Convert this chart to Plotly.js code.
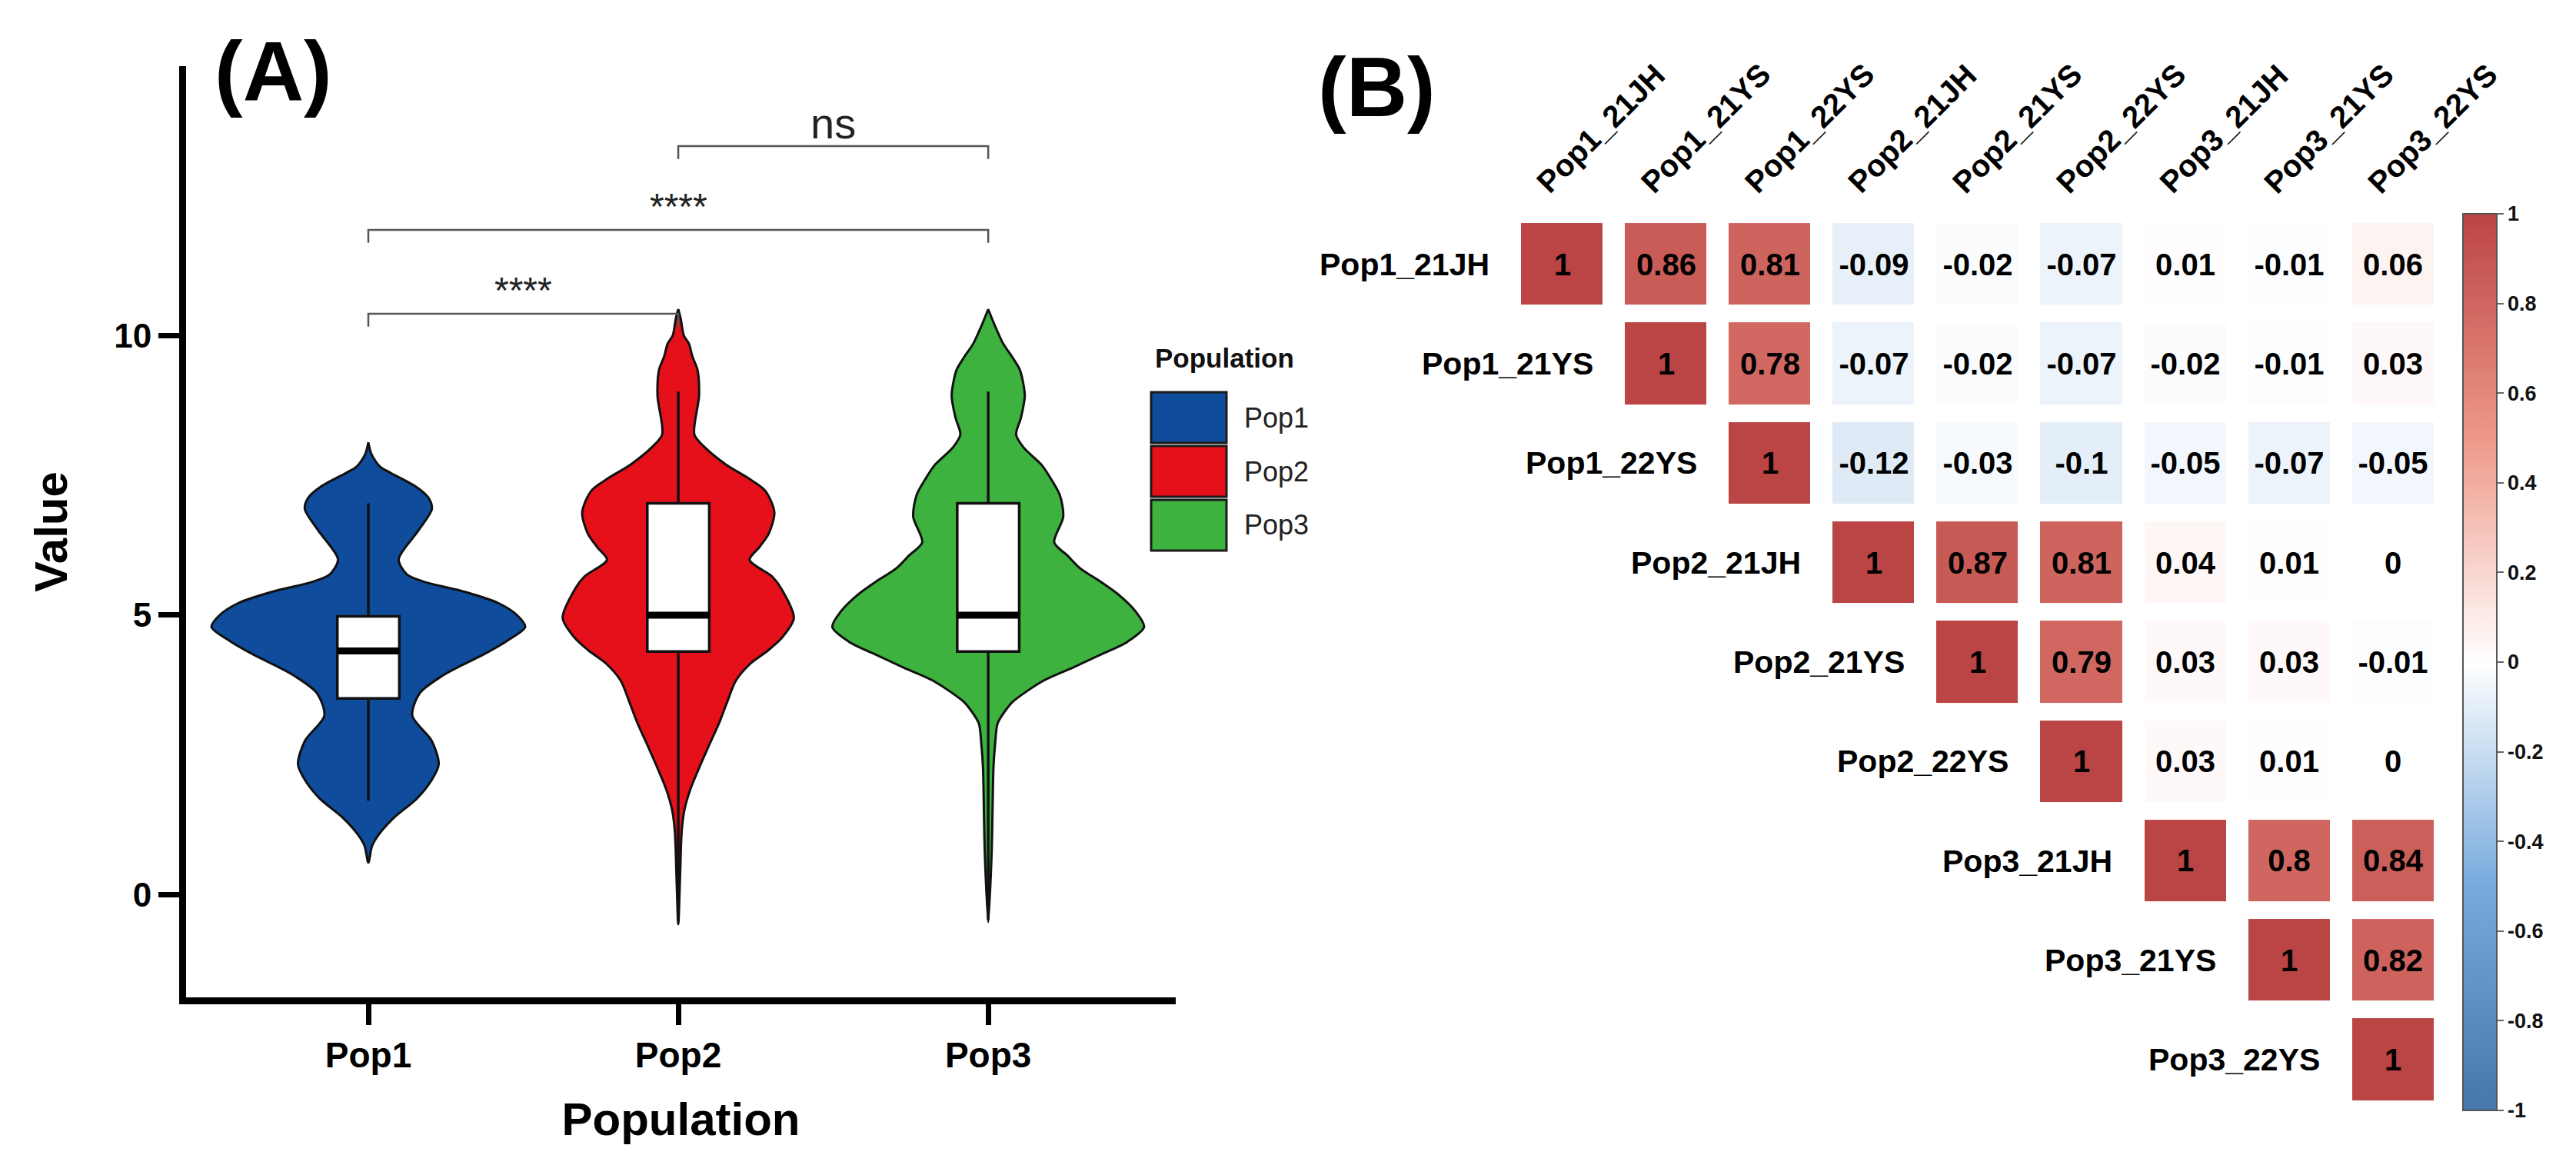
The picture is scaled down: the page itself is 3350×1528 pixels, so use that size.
<!DOCTYPE html>
<html><head><meta charset="utf-8">
<script src="https://cdn.plot.ly/plotly-3.0.1.min.js"></script>
<style>html,body{margin:0;padding:0;background:#fff}#chart{width:3350px;height:1528px}</style>
</head><body><div id="chart"></div>
<script>
const W = 3350, H = 1528;
const FONT = 'Liberation Sans, Arial, Helvetica, sans-serif';

// ---------- Panel A data ----------
const populations = ['Pop1', 'Pop2', 'Pop3'];
const popColors = ['#0f4c9b', '#e5101a', '#3db23e'];
const yTicks = [0, 5, 10];

// violin density profiles (value level, half width in category units)
const pop1Y = [0.575, 0.87, 1.07, 1.39, 1.71, 2.04, 2.33, 2.75, 3.2, 3.6, 3.92, 4.1, 4.31, 4.55, 4.79, 5.0, 5.22, 5.42, 5.6, 5.73, 6.0, 6.51, 6.9, 7.1, 7.3, 7.55, 7.66, 7.88, 8.09];
const pop1Width = [0, 0.012, 0.033, 0.085, 0.155, 0.203, 0.227, 0.205, 0.142, 0.165, 0.24, 0.3, 0.376, 0.45, 0.506, 0.48, 0.418, 0.31, 0.178, 0.124, 0.098, 0.161, 0.205, 0.194, 0.153, 0.07, 0.037, 0.01, 0];
const pop2Y = [-0.53, 0.36, 1.13, 1.52, 1.9, 2.29, 2.68, 3.06, 3.45, 3.83, 4.14, 4.37, 4.6, 4.95, 5.45, 5.69, 5.99, 6.22, 6.46, 6.84, 7.23, 7.46, 7.69, 8.0, 8.23, 8.92, 9.39, 9.62, 9.86, 10.0, 10.3, 10.47];
const pop2Width = [0, 0.006, 0.011, 0.02, 0.04, 0.069, 0.1, 0.131, 0.158, 0.186, 0.234, 0.29, 0.335, 0.373, 0.335, 0.303, 0.23, 0.262, 0.292, 0.31, 0.28, 0.223, 0.155, 0.086, 0.052, 0.067, 0.062, 0.046, 0.034, 0.018, 0.008, 0];
const pop3Y = [-0.49, 0.74, 1.52, 2.29, 2.68, 3.06, 3.25, 3.45, 3.83, 4.06, 4.3, 4.52, 4.79, 5.07, 5.37, 5.6, 5.84, 6.07, 6.3, 6.76, 7.15, 7.46, 7.69, 8.0, 8.23, 8.54, 8.92, 9.15, 9.39, 9.62, 9.86, 10.16, 10.47];
const pop3Width = [0, 0.011, 0.014, 0.017, 0.022, 0.03, 0.05, 0.079, 0.179, 0.272, 0.365, 0.448, 0.503, 0.475, 0.42, 0.362, 0.296, 0.255, 0.213, 0.242, 0.231, 0.2, 0.172, 0.114, 0.09, 0.106, 0.118, 0.113, 0.102, 0.077, 0.048, 0.023, 0];

// box statistics
const boxQ1 = [3.51, 4.35, 4.35];
const boxMedian = [4.36, 5.0, 5.0];
const boxQ3 = [4.98, 7.0, 7.0];
const boxLower = [1.68, -0.45, -0.45];
const boxUpper = [7.0, 9.0, 9.0];

// significance brackets
const sigFrom = [0, 0, 1];
const sigTo = [1, 2, 2];
const sigY = [10.39, 11.89, 13.39];
const sigLabel = ['****', '****', 'ns'];

// ---------- Panel B data ----------
const corrLabels = ['Pop1_21JH', 'Pop1_21YS', 'Pop1_22YS', 'Pop2_21JH', 'Pop2_21YS', 'Pop2_22YS', 'Pop3_21JH', 'Pop3_21YS', 'Pop3_22YS'];
const corrRow1 = [1, 0.86, 0.81, -0.09, -0.02, -0.07, 0.01, -0.01, 0.06];
const corrRow2 = [null, 1, 0.78, -0.07, -0.02, -0.07, -0.02, -0.01, 0.03];
const corrRow3 = [null, null, 1, -0.12, -0.03, -0.1, -0.05, -0.07, -0.05];
const corrRow4 = [null, null, null, 1, 0.87, 0.81, 0.04, 0.01, 0];
const corrRow5 = [null, null, null, null, 1, 0.79, 0.03, 0.03, -0.01];
const corrRow6 = [null, null, null, null, null, 1, 0.03, 0.01, 0];
const corrRow7 = [null, null, null, null, null, null, 1, 0.8, 0.84];
const corrRow8 = [null, null, null, null, null, null, null, 1, 0.82];
const corrRow9 = [null, null, null, null, null, null, null, null, 1];
const colorbarTicks = [1, 0.8, 0.6, 0.4, 0.2, 0, -0.2, -0.4, -0.6, -0.8, -1];

// ---------- helpers ----------
const px = x => x / W;
const py = y => 1 - y / H;

const violinY = [pop1Y, pop2Y, pop3Y];
const violinW = [pop1Width, pop2Width, pop3Width];
const traces = [];

violinY.forEach((ys, i) => {
  const ws = violinW[i];
  const x = [], y = [];
  for (let k = 0; k < ys.length; k++) { x.push(i + ws[k]); y.push(ys[k]); }
  for (let k = ys.length - 1; k >= 0; k--) { x.push(i - ws[k]); y.push(ys[k]); }
  traces.push({
    type: 'scatter', mode: 'lines', x: x, y: y, xaxis: 'x', yaxis: 'y',
    fill: 'toself', fillcolor: popColors[i],
    line: { color: '#111', width: 3, shape: 'spline', smoothing: 0.8 },
    hoverinfo: 'skip', showlegend: false, name: populations[i]
  });
});

// significance brackets
const bx = [], by = [];
const drop = 0.23;
sigFrom.forEach((f, k) => {
  const t = sigTo[k], yv = sigY[k];
  bx.push(f, f, t, t, null);
  by.push(yv - drop, yv, yv, yv - drop, null);
});
traces.push({ type: 'scatter', mode: 'lines', x: bx, y: by, xaxis: 'x', yaxis: 'y',
  line: { color: '#555', width: 2.5 }, hoverinfo: 'skip', showlegend: false });

// boxes on overlay axes (drawn above violins)
const boxWidth = 0.2;
traces.push({
  type: 'box', xaxis: 'x3', yaxis: 'y3',
  x: [0, 1, 2], q1: boxQ1, median: boxMedian, q3: boxQ3,
  lowerfence: boxLower, upperfence: boxUpper,
  width: boxWidth, whiskerwidth: 0, boxpoints: false,
  fillcolor: '#ffffff', line: { color: '#111', width: 3.5 },
  hoverinfo: 'skip', showlegend: false
});
const mx = [], my = [];
boxMedian.forEach((m, i) => { mx.push(i - boxWidth / 2, i + boxWidth / 2, null); my.push(m, m, null); });
traces.push({ type: 'scatter', mode: 'lines', x: mx, y: my, xaxis: 'x3', yaxis: 'y3',
  line: { color: '#000', width: 9 }, hoverinfo: 'skip', showlegend: false });

// heatmap
const corrZ = [corrRow1, corrRow2, corrRow3, corrRow4, corrRow5, corrRow6, corrRow7, corrRow8, corrRow9];
const corrText = corrZ.map(r => r.map(v => v === null ? '' : String(v)));
const idx = corrLabels.map((_, i) => i);
traces.push({
  type: 'heatmap', xaxis: 'x2', yaxis: 'y2',
  x: idx, y: idx, z: corrZ, text: corrText, texttemplate: '%{text}',
  textfont: { family: FONT, size: 40, color: '#000', weight: 'bold' },
  zmin: -1, zmax: 1, xgap: 29, ygap: 23,
  colorscale: [[0, '#4477AA'], [0.25, '#77AADD'], [0.5, '#FFFFFF'], [0.75, '#EE9988'], [1, '#BB4444']],
  hoverinfo: 'skip',
  colorbar: {
    x: px(3203), xanchor: 'left', xpad: 0,
    y: py(861), yanchor: 'middle', ypad: 0,
    len: 1166, lenmode: 'pixels', thickness: 44, thicknessmode: 'pixels',
    outlinewidth: 2, outlinecolor: '#555',
    tickvals: colorbarTicks, ticktext: colorbarTicks.map(v => String(v)),
    ticks: 'outside', ticklen: 8, tickwidth: 2, tickcolor: '#666',
    tickfont: { family: FONT, size: 27, color: '#111', weight: 'bold' }
  }
});

// ---------- annotations ----------
const ann = [];
ann.push({ xref: 'paper', yref: 'paper', x: px(355), y: py(92), text: '(A)', showarrow: false,
  xanchor: 'center', yanchor: 'middle', font: { family: FONT, size: 110, color: '#000', weight: 'bold' } });
ann.push({ xref: 'paper', yref: 'paper', x: px(1791), y: py(113), text: '(B)', showarrow: false,
  xanchor: 'center', yanchor: 'middle', font: { family: FONT, size: 110, color: '#000', weight: 'bold' } });

sigFrom.forEach((f, k) => {
  const isNs = sigLabel[k] === 'ns';
  ann.push({ xref: 'x', yref: 'y', x: (f + sigTo[k]) / 2, y: sigY[k], text: sigLabel[k], showarrow: false,
    xanchor: 'center', yanchor: 'bottom', yshift: isNs ? -4 : 2,
    font: { family: FONT, size: isNs ? 56 : 48, color: '#222' } });
});

// legend
ann.push({ xref: 'paper', yref: 'paper', x: px(1500), y: py(465), text: 'Population', showarrow: false,
  xanchor: 'left', yanchor: 'middle', font: { family: FONT, size: 35, color: '#111', weight: 'bold' } });
const shapes = [];
populations.forEach((p, i) => {
  const top = 510 + i * 70;
  shapes.push({ type: 'rect', xref: 'paper', yref: 'paper', x0: px(1497), x1: px(1595), y0: py(top), y1: py(top + 66),
    fillcolor: popColors[i], line: { color: '#1a1a1a', width: 3 } });
  ann.push({ xref: 'paper', yref: 'paper', x: px(1616), y: py(top + 33), text: p, showarrow: false,
    xanchor: 'left', yanchor: 'middle', font: { family: FONT, size: 36, color: '#222' } });
});

// heatmap row labels (beside the diagonal) and rotated column labels
const cellHalf = 53 / 135.1;
corrLabels.forEach((lab, i) => {
  ann.push({ xref: 'x2', yref: 'y2', x: i - cellHalf, y: i, xshift: -40, text: lab, showarrow: false,
    xanchor: 'right', yanchor: 'middle', font: { family: FONT, size: 41, color: '#000', weight: 'bold' } });
  ann.push({ xref: 'x2', yref: 'paper', x: i - 0.33, y: py(262), text: lab, showarrow: false, textangle: -45,
    xanchor: 'left', yanchor: 'bottom', font: { family: FONT, size: 40, color: '#000', weight: 'bold' } });
});

const xRangeA = [-0.588, 2.605];
const yRangeA = [-1.836, 14.82];
const domXA = [px(242), px(1529)];
const domYA = [py(1297), py(86)];

const layout = {
  width: W, height: H, margin: { l: 0, r: 0, t: 0, b: 0 },
  paper_bgcolor: '#fff', plot_bgcolor: 'rgba(0,0,0,0)', showlegend: false,
  font: { family: FONT, color: '#000' },
  xaxis: {
    domain: domXA, range: xRangeA, tickvals: [0, 1, 2], ticktext: populations,
    showline: true, linewidth: 9, linecolor: '#000', mirror: false,
    ticks: 'outside', ticklen: 27, tickwidth: 7, tickcolor: '#000',
    tickfont: { family: FONT, size: 46, color: '#000', weight: 'bold' },
    showgrid: false, zeroline: false, fixedrange: true,
    title: { text: 'Population', font: { family: FONT, size: 60, color: '#000', weight: 'bold' }, standoff: 40 }
  },
  yaxis: {
    domain: domYA, range: yRangeA, tickvals: yTicks, ticktext: yTicks.map(String),
    showline: true, linewidth: 9, linecolor: '#000',
    ticks: 'outside', ticklen: 27, tickwidth: 7, tickcolor: '#000',
    tickfont: { family: FONT, size: 44, color: '#000', weight: 'bold' },
    showgrid: false, zeroline: false, fixedrange: true,
    title: { text: 'Value', font: { family: FONT, size: 60, color: '#000', weight: 'bold' }, standoff: 45 }
  },
  xaxis3: { overlaying: 'x', range: xRangeA, visible: false, fixedrange: true },
  yaxis3: { overlaying: 'y', range: yRangeA, visible: false, fixedrange: true },
  xaxis2: { domain: [px(1964), px(3179.85)], range: [-0.5, 8.5], visible: false, fixedrange: true },
  yaxis2: { domain: [py(1442.75), py(279.05)], range: [8.5, -0.5], visible: false, fixedrange: true },
  annotations: ann, shapes: shapes
};

Plotly.newPlot('chart', traces, layout, { staticPlot: true, displayModeBar: false });
</script></body></html>
